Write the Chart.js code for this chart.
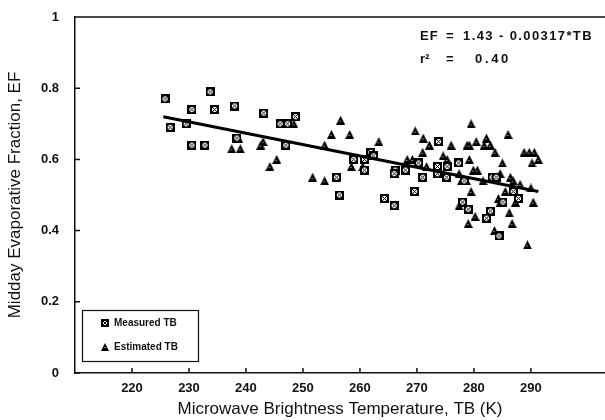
<!DOCTYPE html>
<html>
<head>
<meta charset="utf-8">
<script src="https://cdn.jsdelivr.net/npm/chart.js@4.4.1/dist/chart.umd.min.js"></script>
<style>
html, body { margin: 0; padding: 0; background: #fff; }
</style>
</head>
<body>
<canvas id="chart" width="605" height="420"></canvas>
<script>
// measured TB points (squares)
let measuredTB = [225.8, 233.7, 230.5, 234.5, 238.0, 226.7, 229.5, 230.5, 232.8, 238.4,
    243.1, 246.0, 247.3, 248.7, 247.0, 255.9, 256.4, 261.9, 262.4, 258.9,
    260.8, 260.8, 273.8, 270.3, 273.6, 266.2, 266.0, 268.0, 271.0, 273.6,
    269.6, 264.3, 266.0, 277.3, 275.3, 275.2, 283.2, 283.9, 278.3, 286.9,
    287.8, 285.1, 278.0, 279.0, 282.9, 282.2, 284.4];
let measuredEF = [0.77, 0.79, 0.74, 0.74, 0.75, 0.69, 0.70, 0.64, 0.64, 0.66,
    0.73, 0.70, 0.70, 0.72, 0.64, 0.55, 0.50, 0.62, 0.61, 0.60,
    0.60, 0.57, 0.65, 0.59, 0.58, 0.57, 0.56, 0.57, 0.55, 0.56,
    0.51, 0.49, 0.47, 0.59, 0.58, 0.55, 0.55, 0.55, 0.54, 0.51,
    0.49, 0.48, 0.48, 0.46, 0.455, 0.435, 0.385];

// estimated TB points (triangles)
let estimatedTB = [237.5, 239.0, 248.4, 256.6, 255.0, 253.8, 238.7, 243.0, 242.6, 245.4,
    244.2, 251.7, 253.8, 258.2, 263.3, 258.5, 260.5, 269.7, 271.1, 272.2,
    271.0, 268.3, 269.2, 271.7, 279.5, 286.0, 276.0, 278.8, 279.2, 280.4,
    282.2, 281.8, 282.9, 283.7, 288.8, 289.7, 290.6, 291.3, 290.2, 285.0,
    274.6, 275.3, 279.2, 279.9, 280.6, 284.6, 286.4, 277.4, 277.8, 278.7,
    281.6, 286.9, 288.1, 290.0, 285.5, 279.5, 284.3, 284.6, 287.3, 290.4,
    277.4, 278.0, 280.2, 286.2, 279.0, 286.7, 283.6, 289.4];
let estimatedEF = [0.63, 0.63, 0.70, 0.71, 0.67, 0.64, 0.66, 0.65, 0.64, 0.60,
    0.58, 0.55, 0.54, 0.67, 0.65, 0.58, 0.58, 0.68, 0.66, 0.64,
    0.62, 0.60, 0.60, 0.58, 0.70, 0.67, 0.64, 0.64, 0.64, 0.65,
    0.66, 0.64, 0.64, 0.62, 0.62, 0.62, 0.62, 0.60, 0.59, 0.59,
    0.61, 0.60, 0.60, 0.57, 0.57, 0.56, 0.55, 0.56, 0.54, 0.54,
    0.54, 0.54, 0.53, 0.52, 0.51, 0.51, 0.49, 0.48, 0.48, 0.48,
    0.47, 0.48, 0.44, 0.45, 0.42, 0.42, 0.40, 0.36];

// regression line end points
let fitTB = [225.5, 291.3];
let fitEF = [0.72, 0.51];

let xTicks = [220, 230, 240, 250, 260, 270, 280, 290];
let yTicks = [0, 0.2, 0.4, 0.6, 0.8, 1];

let font = "'Liberation Sans', Arial, sans-serif";
Chart.defaults.font.family = font;
Chart.defaults.color = "#111";

function squareMark(n) {
    let c = document.createElement("canvas");
    c.width = n; c.height = n;
    let g = c.getContext("2d");
    g.fillStyle = "#000";
    g.fillRect(0, 0, n, n);
    g.fillStyle = "#fff";
    g.fillRect(2, 2, n - 4, n - 4);
    g.strokeStyle = "#000";
    g.lineWidth = 1;
    g.beginPath();
    g.moveTo(2, 2); g.lineTo(n - 2, n - 2);
    g.moveTo(n - 2, 2); g.lineTo(2, n - 2);
    g.stroke();
    return c;
}

function triangleMark(n) {
    let c = document.createElement("canvas");
    c.width = n; c.height = n;
    let g = c.getContext("2d");
    g.fillStyle = "#000";
    g.beginPath();
    g.moveTo(n / 2, 0);
    g.lineTo(n, n);
    g.lineTo(0, n);
    g.closePath();
    g.fill();
    g.fillStyle = "#fff";
    g.fillRect(Math.floor(n / 2) - 0.5, n - 4, 1, 1);
    return c;
}

let sq = squareMark(9), tri = triangleMark(9);
let sqSmall = squareMark(8), triSmall = triangleMark(8);

// draw text stretched to a given width
function fitText(c, s, x, y, w) {
    c.letterSpacing = "0px";
    let nat = c.measureText(s).width;
    c.letterSpacing = ((w - nat) / s.length) + "px";
    c.fillText(s, x, y);
    c.letterSpacing = "0px";
}

let frame = {
    id: "frame",
    afterDraw(chart) {
        let c = chart.ctx, a = chart.chartArea;
        let x = chart.scales.x, y = chart.scales.y;
        c.save();
        c.strokeStyle = "#111";
        c.lineWidth = 1.5;
        c.beginPath();
        c.moveTo(a.left, a.top);
        c.lineTo(a.right, a.top);
        // ticks point inward
        xTicks.forEach(v => {
            let px = x.getPixelForValue(v);
            c.moveTo(px, a.bottom);
            c.lineTo(px, a.bottom - 5);
        });
        yTicks.forEach(v => {
            let py = y.getPixelForValue(v);
            c.moveTo(a.left, py);
            c.lineTo(a.left + 5, py);
        });
        c.stroke();

        c.fillStyle = "#111";
        c.textBaseline = "middle";
        c.font = "bold 13px " + font;
        fitText(c, "EF", 420, 36, 19);
        c.fillText("=", 446, 36);
        fitText(c, "1.43 - 0.00317*TB", 463, 36, 130);
        c.fillText("r²", 420, 59);
        c.fillText("=", 446, 59);
        fitText(c, "0.40", 475, 59, 36);

        // legend box
        c.lineWidth = 1.2;
        c.strokeRect(82.5, 310.5, 116, 51);
        c.drawImage(sqSmall, 101, 319);
        c.drawImage(triSmall, 101, 343);
        c.font = "bold 10px " + font;
        c.fillText("Measured TB", 114, 323);
        c.fillText("Estimated TB", 114, 347);
        c.restore();
    }
};

let ctx = document.getElementById("chart").getContext("2d");

let chart = new Chart(ctx, {
    type: "scatter",
    data: {
        datasets: [
            {
                label: "Measured TB",
                data: measuredTB.map((v, i) => ({x: v, y: measuredEF[i]})),
                pointStyle: sq,
                order: 2,
            },
            {
                label: "Estimated TB",
                data: estimatedTB.map((v, i) => ({x: v, y: estimatedEF[i]})),
                pointStyle: tri,
                order: 3,
            },
            {
                type: "line",
                label: "fit",
                data: fitTB.map((v, i) => ({x: v, y: fitEF[i]})),
                borderColor: "#000",
                borderWidth: 3,
                pointRadius: 0,
                order: 1,
            }
        ]
    },
    options: {
        responsive: false,
        animation: false,
        layout: {autoPadding: false, padding: {top: 17, right: 0, left: 0, bottom: 0}},
        plugins: {legend: {display: false}, tooltip: {enabled: false}},
        scales: {
            x: {
                type: "linear",
                min: 210,
                max: 303,
                afterBuildTicks: s => { s.ticks = xTicks.map(v => ({value: v})); },
                afterFit: s => { s.height = 47; },
                ticks: {padding: 8, font: {size: 13, weight: "bold"}, color: "#111"},
                grid: {display: false, drawTicks: false},
                border: {color: "#111", width: 1.5},
                title: {display: true, text: "Microwave Brightness Temperature, TB (K)", font: {size: 17}, color: "#111", padding: 0}
            },
            y: {
                min: 0,
                max: 1,
                afterBuildTicks: s => { s.ticks = yTicks.map(v => ({value: v})); },
                afterFit: s => { s.width = 75; s.paddingTop = 0; s.paddingBottom = 0; },
                ticks: {padding: 16, font: {size: 13, weight: "bold"}, color: "#111", callback: v => String(v)},
                grid: {display: false, drawTicks: false},
                border: {color: "#111", width: 1.5},
                title: {display: true, text: "Midday Evaporative Fraction, EF", font: {size: 17}, color: "#111", padding: {top: 5, bottom: 0}}
            }
        }
    },
    plugins: [frame]
});
</script>
</body>
</html>
